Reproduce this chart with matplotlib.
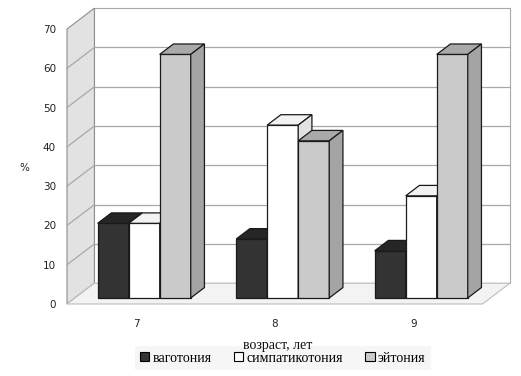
import numpy as np
import matplotlib
matplotlib.use('Agg')
import matplotlib.pyplot as plt
from matplotlib.patches import Polygon, Patch

# --- data ---
ages = ['7', '8', '9']
series_names = ['ваготония', 'симпатикотония', 'эйтония']
vagotonia = [19, 15, 12]
sympathicotonia = [19, 44, 26]
eutonia = [62, 40, 62]
y_ticks = [0, 10, 20, 30, 40, 50, 60, 70]

values = [vagotonia, sympathicotonia, eutonia]
# (front, top, side) colours for each series
colors = [('#333333', '#262626', '#1e1e1e'),
          ('#ffffff', '#f2f2f2', '#e2e2e2'),
          ('#cacaca', '#a9a9a9', '#a4a4a4')]

# oblique "3D" depth vector in data units (x: categories, y: values)
DX, DY = 0.198, 5.3
T0, T1 = 0.29, 0.79      # bar depth range as fraction of the floor depth
group_w = 0.672
bar_w = group_w / 3
x_lo, x_hi = -0.5, 2.5
y_top = 70

fig = plt.figure(figsize=(5.21, 3.76), dpi=100)
ax = fig.add_axes([67 / 521, 72 / 376, 415.5 / 521, 275 / 376])
ax.set_xlim(x_lo, x_hi)
ax.set_ylim(0, y_top)
for s in ax.spines.values():
    s.set_visible(False)

def poly(pts, fc, ec, lw=0.8, z=1):
    ax.add_patch(Polygon(pts, closed=True, facecolor=fc, edgecolor=ec,
                         linewidth=lw, zorder=z, clip_on=False))

grid_c = '#a8a8a8'
# back wall
poly([(x_lo + DX, DY), (x_hi + DX, DY), (x_hi + DX, y_top + DY),
      (x_lo + DX, y_top + DY)], 'white', grid_c, z=1)
# left wall
poly([(x_lo, 0), (x_lo + DX, DY), (x_lo + DX, y_top + DY), (x_lo, y_top)],
     '#e2e2e2', '#8c8c8c', z=2)
# floor
poly([(x_lo, 0), (x_hi, 0), (x_hi + DX, DY), (x_lo + DX, DY)],
     '#f3f3f3', '#bdbdbd', z=2)

# gridlines
for v in y_ticks[1:-1]:
    ax.plot([x_lo + DX, x_hi + DX], [v + DY, v + DY], color=grid_c, lw=0.9,
            zorder=1.5, clip_on=False)
    ax.plot([x_lo, x_lo + DX], [v, v + DY], color=grid_c, lw=0.9,
            zorder=2.5, clip_on=False)

# bars
z = 3
for i in range(len(ages)):
    left0 = i + T0 * DX - group_w / 2
    for k, vals in enumerate(values):
        h = vals[i]
        x0 = left0 + k * bar_w
        x1 = x0 + bar_w
        yb = T0 * DY
        ex, ey = (T1 - T0) * DX, (T1 - T0) * DY
        fc, tc, sc = colors[k]
        poly([(x0, yb), (x1, yb), (x1, yb + h), (x0, yb + h)], fc, '#1a1a1a', 0.9, z)
        poly([(x0, yb + h), (x1, yb + h), (x1 + ex, yb + h + ey),
              (x0 + ex, yb + h + ey)], tc, '#1a1a1a', 0.9, z)
        poly([(x1, yb), (x1 + ex, yb + ey), (x1 + ex, yb + h + ey),
              (x1, yb + h)], sc, '#1a1a1a', 0.9, z)
        z += 1

ax.set_yticks(y_ticks)
ax.set_xticks(range(len(ages)))
ax.set_xticklabels(ages)
ax.tick_params(axis='y', length=0, pad=8, labelsize=7.5, labelcolor='#222222')
ax.tick_params(axis='x', length=0, pad=11, labelsize=7.5, labelcolor='#222222')

fig.text(24 / 521, 1 - 168 / 376, '%', fontsize=7.5, ha='center', va='center',
         color='#222222')

handles = [Patch(facecolor=c[0], edgecolor='black', linewidth=0.8) for c in colors]
leg = fig.legend(handles, series_names, loc='center', ncol=3,
                 bbox_to_anchor=(283 / 521, 1 - 358 / 376),
                 prop={'family': 'Liberation Serif', 'size': 10},
                 frameon=True, facecolor='#f6f6f6', edgecolor='none',
                 fancybox=False, handlelength=0.65, handleheight=0.65,
                 handletextpad=0.25, columnspacing=1.6, borderpad=0.4)
leg.get_frame().set_alpha(1)

fig.text(278 / 521, 1 - 346 / 376, 'возраст, лет', family='Liberation Serif',
         fontsize=10, ha='center', va='center', color='#111111', zorder=10)

fig.savefig('out.png', dpi=100)
